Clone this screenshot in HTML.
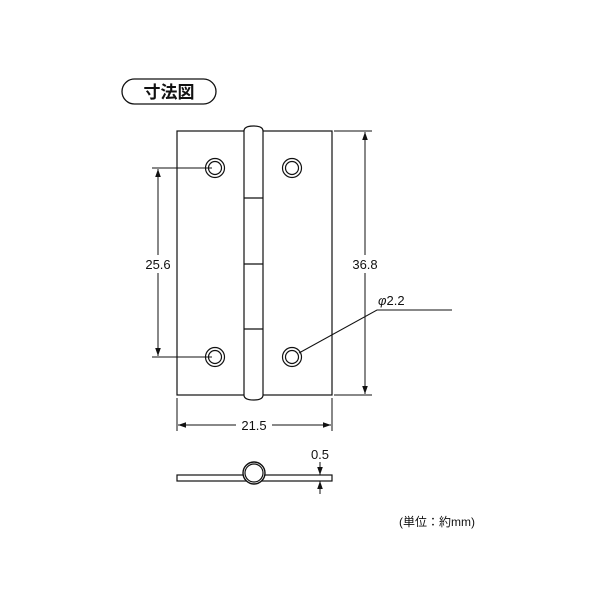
<!DOCTYPE html>
<html><head><meta charset="utf-8"><style>
html,body{margin:0;padding:0;background:#fff;}
svg{display:block;}
text{font-family:"Liberation Sans","Noto Sans CJK JP",sans-serif;fill:#111;}
</style></head><body>
<svg width="600" height="600" viewBox="0 0 600 600">
<defs>
<marker id="a" viewBox="0 0 10 10" refX="10" refY="5" markerWidth="8" markerHeight="8" orient="auto-start-reverse" markerUnits="userSpaceOnUse"><path d="M0,1.5 L10,5 L0,8.5 z" fill="#111"/></marker>
</defs>
<g stroke="#111" fill="none" stroke-width="1.2">
<rect x="122" y="79" width="94" height="25" rx="12.5" stroke-width="1.3"/>
<rect x="177" y="131" width="155" height="264" fill="#fff"/>
<path d="M244,395 L244,131 Q244,126 253.5,126 Q263,126 263,131 L263,395 Q263,400 253.5,400 Q244,400 244,395 Z" fill="#fff"/>
<line x1="244" y1="198" x2="263" y2="198"/>
<line x1="244" y1="264" x2="263" y2="264"/>
<line x1="244" y1="329" x2="263" y2="329"/>
<circle cx="215" cy="168" r="9.5"/><circle cx="215" cy="168" r="6.5"/>
<circle cx="292" cy="168" r="9.5"/><circle cx="292" cy="168" r="6.5"/>
<circle cx="215" cy="357" r="9.5"/><circle cx="215" cy="357" r="6.5"/>
<circle cx="292" cy="357" r="9.5"/><circle cx="292" cy="357" r="6.5"/>
<line x1="152" y1="168" x2="212" y2="168" stroke-width="1"/>
<line x1="152" y1="357" x2="212" y2="357" stroke-width="1"/>
<line x1="158" y1="169" x2="158" y2="356" stroke-width="1" marker-start="url(#a)" marker-end="url(#a)"/>
<line x1="334" y1="131" x2="372" y2="131" stroke-width="1"/>
<line x1="334" y1="395" x2="372" y2="395" stroke-width="1"/>
<line x1="365" y1="132" x2="365" y2="394" stroke-width="1" marker-start="url(#a)" marker-end="url(#a)"/>
<line x1="177" y1="398" x2="177" y2="431" stroke-width="1"/>
<line x1="332" y1="398" x2="332" y2="431" stroke-width="1"/>
<line x1="178" y1="425" x2="331" y2="425" stroke-width="1" marker-start="url(#a)" marker-end="url(#a)"/>
<polyline points="299,353 377,310 452,310" stroke-width="1"/>
<rect x="177" y="475" width="155" height="6" fill="#fff"/>
<circle cx="254" cy="473" r="11" fill="#fff" stroke-width="1.4"/>
<circle cx="254" cy="473" r="9" />
<line x1="320" y1="462" x2="320" y2="475" stroke-width="1" marker-end="url(#a)"/>
<line x1="320" y1="494" x2="320" y2="481" stroke-width="1" marker-end="url(#a)"/>
</g>
<rect x="351" y="255" width="28" height="18" fill="#fff"/>
<rect x="142" y="255" width="32" height="18" fill="#fff"/>
<rect x="236" y="417" width="36" height="16" fill="#fff"/>
<text x="169" y="98" font-size="17" font-weight="bold" text-anchor="middle">寸法図</text>
<text x="158" y="269" font-size="13" text-anchor="middle">25.6</text>
<text x="365" y="269" font-size="13" text-anchor="middle">36.8</text>
<text x="254" y="430" font-size="13" text-anchor="middle">21.5</text>
<text x="378" y="305" font-size="13"><tspan font-style="italic">φ</tspan>2.2</text>
<text x="320" y="459" font-size="13" text-anchor="middle">0.5</text>
<text x="437" y="526" font-size="12" text-anchor="middle">(単位：約mm)</text>
</svg>
</body></html>
